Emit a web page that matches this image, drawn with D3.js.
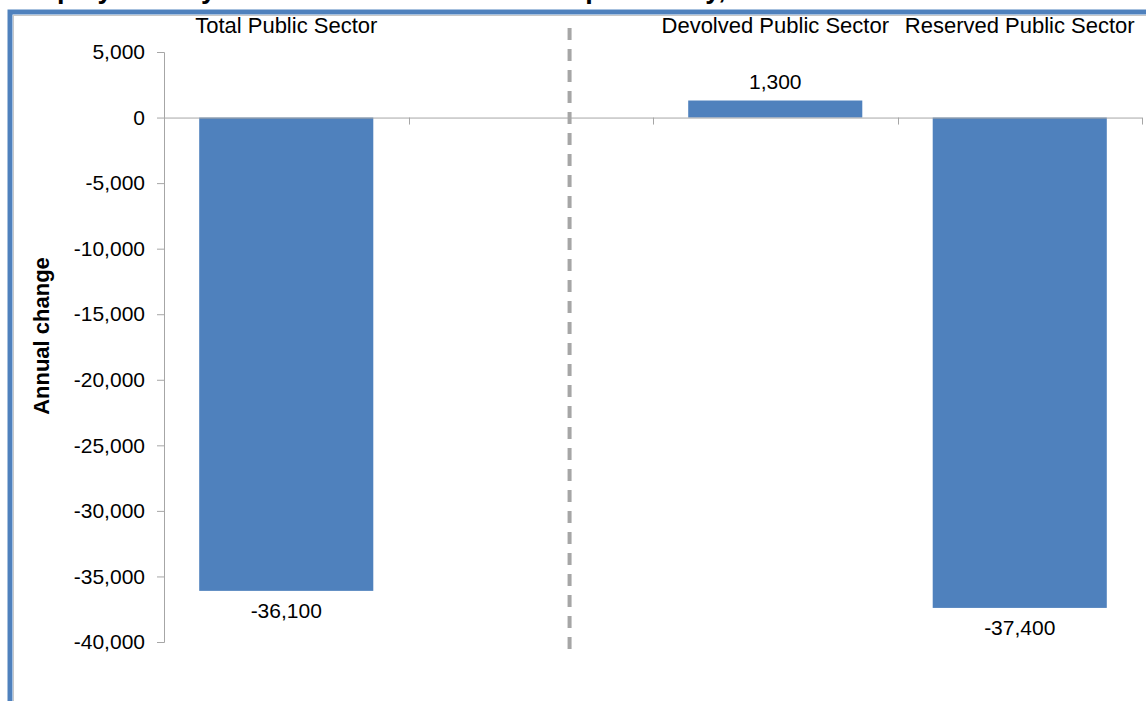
<!DOCTYPE html>
<html><head><meta charset="utf-8">
<script src="https://cdn.jsdelivr.net/npm/d3@7"></script>
<style>html,body{margin:0;padding:0;background:#fff;overflow:hidden}svg{display:block;font-family:"Liberation Sans",Arial,sans-serif}</style>
</head><body>
<svg id="chart" width="1146" height="701"></svg>
<script>
const categories = ["Total Public Sector", "spacer", "Devolved Public Sector", "Reserved Public Sector"];
const categoryLabels = ["Total Public Sector", "", "Devolved Public Sector", "Reserved Public Sector"];
const values = [-36100, null, 1300, -37400];
const valueLabels = ["-36,100", "", "1,300", "-37,400"];
const yTicks = [5000, 0, -5000, -10000, -15000, -20000, -25000, -30000, -35000, -40000];
const titleText = "Employment by Devolved and Reserved Responsibility, 2012";
const yTitle = "Annual change";

const svg = d3.select("#chart");
const x = d3.scaleBand().domain(categories).range([164, 1142]).paddingInner(0.288).paddingOuter(0.144);
const y = d3.scaleLinear().domain([-40000, 5000]).range([642, 52]);
const fmt = d => d3.format(",")(d).replace("\u2212", "-");

// clipped title (only descenders visible, as in the reference)
svg.append("text").attr("x", 15).attr("y", -2).attr("font-size", 27).attr("font-weight", "bold").attr("fill", "#000").text(titleText);

// frame
svg.append("rect").attr("x", 10).attr("y", 12).attr("width", 1300).attr("height", 900)
  .attr("fill", "none").attr("stroke", "#4F81BD").attr("stroke-width", 5);
svg.append("line").attr("x1", 13.5).attr("x2", 13.5).attr("y1", 15).attr("y2", 701).attr("stroke", "#C8C8C8").attr("stroke-width", 1);
svg.append("line").attr("x1", 13).attr("x2", 1146).attr("y1", 15.5).attr("y2", 15.5).attr("stroke", "#C8C8C8").attr("stroke-width", 1);

// y axis
const yAxis = d3.axisLeft(y).tickValues(yTicks).tickSize(7).tickPadding(12).tickFormat(fmt);
const gy = svg.append("g").attr("transform", "translate(164,0)").call(yAxis);
gy.select(".domain").attr("stroke", "#A6A6A6").attr("d", `M-7,${y(5000)+0.5}H0.5V${y(-40000)+0.5}H-7`);
gy.selectAll(".tick line").attr("stroke", "#A6A6A6");
gy.selectAll(".tick text").attr("font-size", 21).attr("fill", "#000").attr("font-family", "Liberation Sans, Arial, sans-serif");

// bars
svg.append("g").selectAll("rect").data(categories.map((c, i) => ({c, v: values[i]})).filter(d => d.v !== null))
  .join("rect")
  .attr("x", d => x(d.c))
  .attr("width", x.bandwidth())
  .attr("y", d => Math.min(y(d.v), y(0)))
  .attr("height", d => Math.abs(y(d.v) - y(0)))
  .attr("fill", "#4F81BD");

// zero line with category ticks
const xAxis = d3.axisBottom(x).tickSize(0).tickFormat("");
const gx = svg.append("g").attr("transform", `translate(0,${y(0)})`).call(xAxis);
gx.select(".domain").attr("stroke", "#A6A6A6").attr("d", `M164,0.5H1142`);
const boundaries = categories.map(c => x(c) - x.step() * x.paddingInner() / 2 + x.step());
gx.selectAll(".bnd").data(boundaries).join("line").attr("class", "bnd")
  .attr("x1", d => Math.round(d) + 0.5).attr("x2", d => Math.round(d) + 0.5)
  .attr("y1", 0).attr("y2", 7).attr("stroke", "#A6A6A6");

// y axis title
svg.append("text").attr("transform", `translate(49,336) rotate(-90)`)
  .attr("text-anchor", "middle").attr("font-size", 22).attr("font-weight", "bold").text(yTitle);

// category labels at top
svg.append("g").selectAll("text").data(categories.map((c, i) => ({c, l: categoryLabels[i]})))
  .join("text")
  .attr("x", d => x(d.c) + x.bandwidth() / 2)
  .attr("y", 33)
  .attr("text-anchor", "middle").attr("font-size", 22).attr("fill", "#000")
  .text(d => d.l);

// value labels
svg.append("g").selectAll("text").data(categories.map((c, i) => ({c, v: values[i], l: valueLabels[i]})).filter(d => d.v !== null))
  .join("text")
  .attr("x", d => x(d.c) + x.bandwidth() / 2)
  .attr("y", d => d.v >= 0 ? y(d.v) - 12 : y(d.v) + 27)
  .attr("text-anchor", "middle").attr("font-size", 21).attr("fill", "#000")
  .text(d => d.l);

// dashed divider
const divX = x("spacer") + x.bandwidth() * 0.723;
svg.append("line").attr("x1", divX).attr("x2", divX).attr("y1", 28).attr("y2", 656)
  .attr("stroke", "#A6A6A6").attr("stroke-width", 4).attr("stroke-dasharray", "12,9");
</script>
</body></html>
